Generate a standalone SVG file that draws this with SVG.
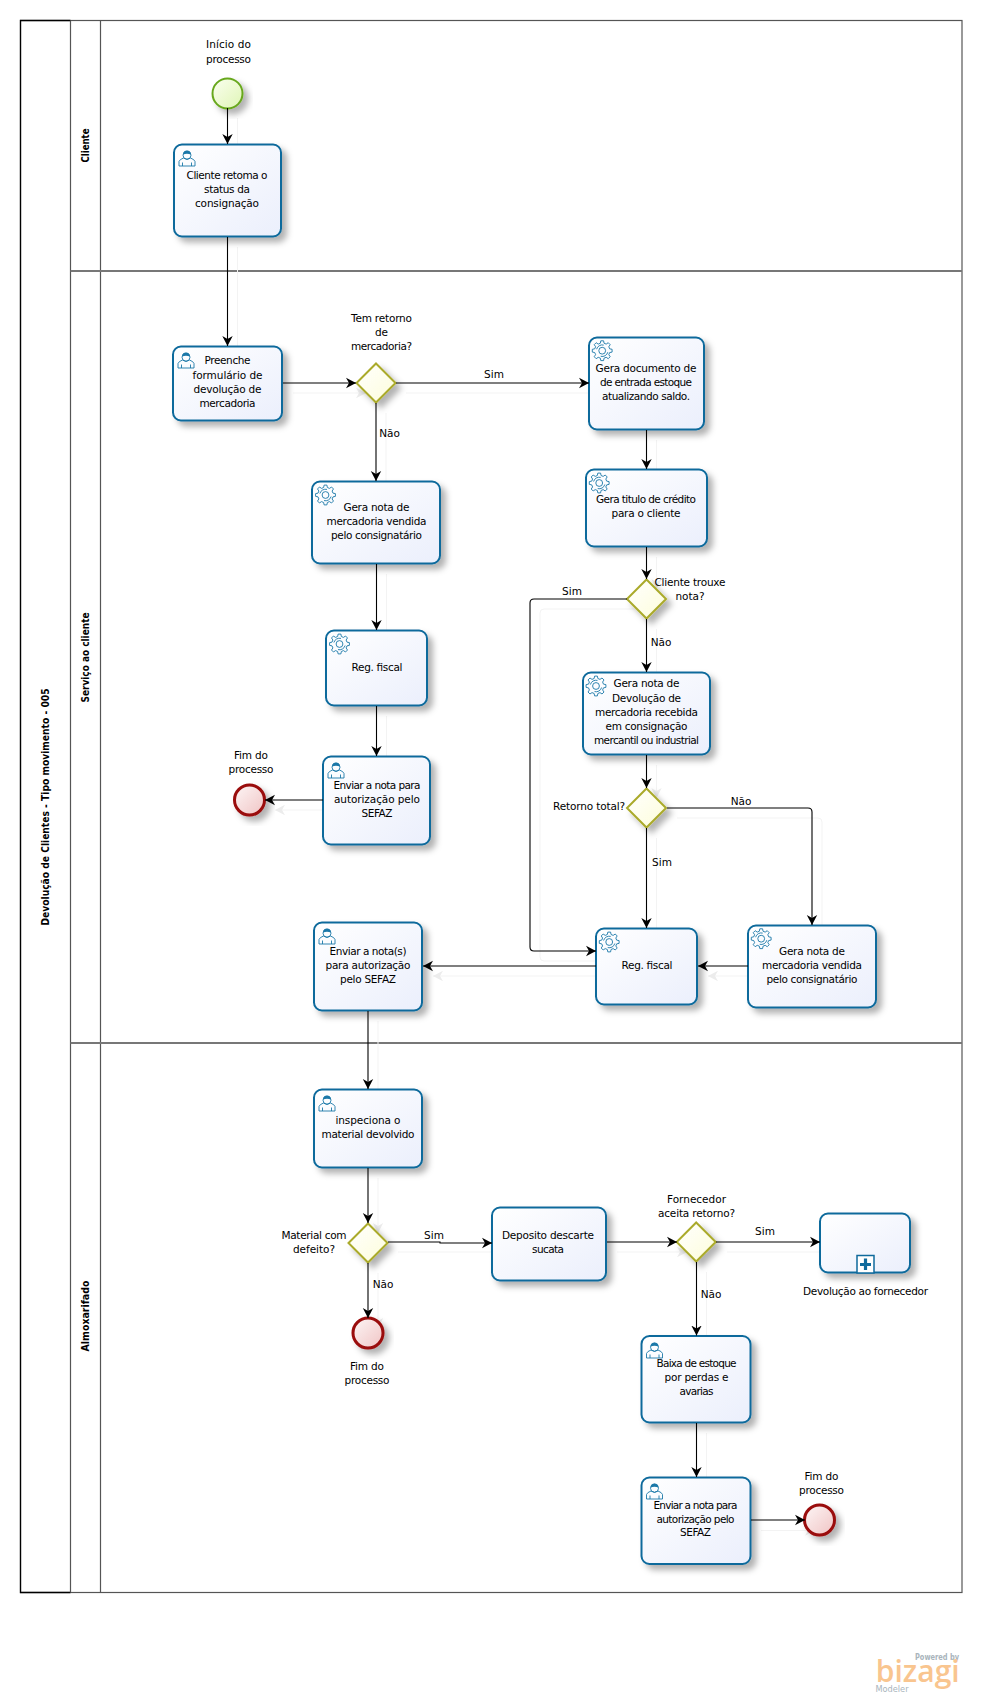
<svg xmlns="http://www.w3.org/2000/svg" width="982" height="1705" viewBox="0 0 982 1705">
<style>
text{font-family:"DejaVu Sans","Liberation Sans",sans-serif;font-size:10.5px;fill:#000;text-anchor:middle}
.b{font-weight:bold;font-size:10.5px}
.lane{fill:none;stroke:#555;stroke-width:1.2}
.sep{stroke:#777;stroke-width:2}
.task{fill:url(#gt);stroke:#0f6a9c;stroke-width:2;filter:url(#sh)}
.gw{fill:url(#gg);stroke:#aaaa2a;stroke-width:2;filter:url(#sh)}
.st{fill:url(#gs);stroke:#68a81e;stroke-width:2;filter:url(#sh)}
.en{fill:url(#ge);stroke:#9a0a0a;stroke-width:3;filter:url(#sh)}
.c{fill:none;stroke:#000;stroke-width:1.1;marker-end:url(#a)}
.cs{fill:none;stroke:#f3f3f3;stroke-width:1;marker-end:url(#as)}
.ic{fill:none;stroke:#1b78a8;stroke-width:0.9}
</style>
<defs>
<linearGradient id="gt" x1="0" y1="0" x2="1" y2="1"><stop offset="0" stop-color="#fff"/><stop offset="1" stop-color="#ebeffc"/></linearGradient>
<linearGradient id="gg" x1="0" y1="0" x2="1" y2="1"><stop offset="0" stop-color="#fff"/><stop offset="1" stop-color="#fdfdda"/></linearGradient>
<linearGradient id="gs" x1="0" y1="0" x2="1" y2="1"><stop offset="0" stop-color="#fbfff0"/><stop offset="1" stop-color="#dff5b5"/></linearGradient>
<linearGradient id="ge" x1="0" y1="0" x2="1" y2="1"><stop offset="0" stop-color="#fdf6f6"/><stop offset="1" stop-color="#f0c4c4"/></linearGradient>
<filter id="sh" x="-25%" y="-25%" width="160%" height="160%"><feDropShadow dx="5" dy="5" stdDeviation="3" flood-color="#000" flood-opacity="0.3"/></filter>
<marker id="a" markerUnits="userSpaceOnUse" markerWidth="12" markerHeight="12" refX="10" refY="6" orient="auto"><path d="M0 0.8L10 6L0 11.2L3 6Z" fill="#000"/></marker>
<marker id="as" markerUnits="userSpaceOnUse" markerWidth="12" markerHeight="12" refX="10" refY="6" orient="auto"><path d="M0 0.8L10 6L0 11.2L3 6Z" fill="#ececec"/></marker>
<g id="gear"><path class="ic" d="M7.47-1.86L9.9-1.39L9.9 1.39L7.47 1.86L6.6 3.97L7.99 6.02L6.02 7.99L3.97 6.6L1.86 7.47L1.39 9.9L-1.39 9.9L-1.86 7.47L-3.97 6.6L-6.02 7.99L-7.99 6.02L-6.6 3.97L-7.47 1.86L-9.9 1.39L-9.9-1.39L-7.47-1.86L-6.6-3.97L-7.99-6.02L-6.02-7.99L-3.97-6.6L-1.86-7.47L-1.39-9.9L1.39-9.9L1.86-7.47L3.97-6.6L6.02-7.99L7.99-6.02L6.6-3.97Z"/><circle class="ic" r="3.4"/><path class="ic" d="M-5.6-1.5A5.8 5.8 0 0 1 1.5-5.6M5.6 1.5A5.8 5.8 0 0 1-1.5 5.6"/></g>
<g id="user"><path class="ic" d="M0.5 16V11.5Q1 9.5 5 8Q8.5 11 12 8Q16 9.5 16.5 11.5V16ZM4 16V12.5M13 16V12.5"/><circle class="ic" cx="8.5" cy="5.2" r="4"/><path d="M4.5 4.5Q5 0.5 8.5 0.5Q12 0.5 12.5 4.5Q8.5 2.8 4.5 4.5Z" fill="#1b78a8"/></g>
</defs>

<g id="pool">
<rect x="20.5" y="20.5" width="941.5" height="1572" fill="#fff" stroke="#555" stroke-width="1.2"/>
<path d="M70.5 20.5H20.5V1592.5H70.5" fill="none" stroke="#000" stroke-width="1.3"/>
<path class="lane" d="M70.5 20.5V1592.5M100.500 20.5V1592.5"/>
<path class="sep" d="M70.5 271H962M70.5 1043H962"/>
<text class="b" transform="translate(45 807) rotate(-90)" y="4" textLength="237" lengthAdjust="spacingAndGlyphs">Devolução de Clientes - Tipo movimento - 005</text>
<text class="b" transform="translate(85 145.5) rotate(-90)" y="4" textLength="34" lengthAdjust="spacingAndGlyphs">Cliente</text>
<text class="b" transform="translate(85 657.5) rotate(-90)" y="4" textLength="90" lengthAdjust="spacingAndGlyphs">Serviço ao cliente</text>
<text class="b" transform="translate(85 1316) rotate(-90)" y="4" textLength="71" lengthAdjust="spacingAndGlyphs">Almoxarifado</text>
</g>

<g id="connector-shadows">
<path class="cs" d="M237.5 118V154"/><path class="cs" d="M237.5 247V356"/><path class="cs" d="M293 393H366"/><path class="cs" d="M406 393H599"/><path class="cs" d="M386 413V491"/><path class="cs" d="M386.500 574V640"/><path class="cs" d="M386.500 716V766"/><path class="cs" d="M333 810H275"/>
<path class="cs" d="M656.500 440V479"/><path class="cs" d="M656.500 557V589"/><path class="cs" d="M656.500 629V682"/><path class="cs" d="M656.500 765V798"/><path class="cs" d="M656.500 838V938"/>
<path class="cs" d="M637 609H544Q540 609 540 613V957Q540 961 544 961H606"/><path class="cs" d="M677 818H818Q822 818 822 822V935"/><path class="cs" d="M758 976H708"/><path class="cs" d="M606 976H433"/><path class="cs" d="M378 1021V1099"/><path class="cs" d="M378 1178V1233"/><path class="cs" d="M378 1273V1328"/><path class="cs" d="M398 1252H502"/><path class="cs" d="M617 1252H687"/><path class="cs" d="M727 1252H830"/><path class="cs" d="M706.500 1272V1345"/><path class="cs" d="M706.500 1433V1487"/><path class="cs" d="M761 1530.500H815"/>
</g>

<g id="nodes" transform="translate(-0.5 0)">
<g id="start"><circle class="st" cx="228" cy="93.500" r="15"/><text x="229" y="48" textLength="45">Início do</text><text x="229" y="62.500" textLength="45">processo</text></g>
<g id="t-cliente"><rect class="task" x="174.500" y="144.500" width="107" height="92" rx="8"/><use href="#user" x="179" y="150"/><text x="227.500" y="179" textLength="81">Cliente retoma o</text><text x="227.500" y="193" textLength="46">status da</text><text x="227.500" y="207" textLength="64">consignação</text></g>
<g id="t-preenche"><rect class="task" x="173.500" y="346.500" width="109" height="74" rx="8"/><use href="#user" x="178" y="352"/><text x="228" y="364" textLength="46">Preenche</text><text x="228" y="379" textLength="70">formulário de</text><text x="228" y="393" textLength="68">devolução de</text><text x="228" y="407" textLength="56">mercadoria</text></g>
<g id="gw-retorno"><path class="gw" d="M376.500 363.500L396 383L376.500 402.500L357 383Z"/><text x="382" y="322" textLength="61">Tem retorno</text><text x="382" y="336">de</text><text x="382" y="350" textLength="61">mercadoria?</text></g>
<g id="t-doc"><rect class="task" x="589.500" y="337.500" width="115" height="92" rx="8"/><use href="#gear" x="602.700" y="350.700"/><text x="646.500" y="372" textLength="101">Gera documento de</text><text x="646.500" y="386" textLength="92">de entrada estoque</text><text x="646.500" y="400" textLength="88">atualizando  saldo.</text></g>
<g id="t-titulo"><rect class="task" x="586.500" y="469.500" width="121" height="77" rx="8"/><use href="#gear" x="599.700" y="483"/><text x="646.500" y="503" textLength="100">Gera titulo de crédito</text><text x="646.500" y="517" textLength="69">para o cliente</text></g>
<g id="gw-nota"><path class="gw" d="M647 579.500L666.500 599L647 618.500L627.500 599Z"/><text x="690.500" y="586" textLength="71">Cliente trouxe</text><text x="690.500" y="600" textLength="29">nota?</text></g>
<g id="t-devol"><rect class="task" x="583.500" y="672.500" width="127" height="82" rx="8"/><use href="#gear" x="596.500" y="686"/><text x="647" y="687" textLength="66">Gera nota de</text><text x="647" y="702" textLength="69">Devolução de</text><text x="647" y="716" textLength="103">mercadoria recebida</text><text x="647" y="730" textLength="82">em consignação</text><text x="647" y="744" textLength="105">mercantil ou industrial</text></g>
<g id="gw-total"><path class="gw" d="M647 788.500L666.500 808L647 827.500L627.500 808Z"/><text x="589.500" y="810" textLength="72">Retorno total?</text></g>
<g id="t-reg2"><rect class="task" x="596.500" y="928.500" width="101" height="76" rx="8"/><use href="#gear" x="609.700" y="942"/><text x="647.500" y="969" textLength="51">Reg. fiscal</text></g>
<g id="t-vend2"><rect class="task" x="748.500" y="925.500" width="128" height="82" rx="8"/><use href="#gear" x="761.700" y="938.700"/><text x="812.500" y="955" textLength="66">Gera nota de</text><text x="812.500" y="969" textLength="100">mercadoria vendida</text><text x="812.500" y="983" textLength="91">pelo  consignatário</text></g>
<g id="t-vend1"><rect class="task" x="312.500" y="481.500" width="128" height="82" rx="8"/><use href="#gear" x="326" y="495"/><text x="377" y="511" textLength="66">Gera nota de</text><text x="377" y="525" textLength="100">mercadoria vendida</text><text x="377" y="539" textLength="91">pelo  consignatário</text></g>
<g id="t-reg1"><rect class="task" x="326.500" y="630.500" width="101" height="75" rx="8"/><use href="#gear" x="340" y="644"/><text x="377.500" y="671" textLength="51">Reg. fiscal</text></g>
<g id="t-env1"><rect class="task" x="323.500" y="756.500" width="107" height="88" rx="8"/><use href="#user" x="328" y="762"/><text x="377.500" y="789" textLength="87">Enviar a nota para</text><text x="377.500" y="803" textLength="86">autorização pelo</text><text x="377.500" y="817" textLength="31">SEFAZ</text></g>
<g id="end1"><circle class="en" cx="250" cy="800" r="15"/><text x="251.500" y="759" textLength="34">Fim do</text><text x="251.500" y="773" textLength="45">processo</text></g>
<g id="t-env2"><rect class="task" x="314.500" y="922.500" width="108" height="88" rx="8"/><use href="#user" x="319" y="928"/><text x="368.500" y="955" textLength="77">Enviar a nota(s)</text><text x="368.500" y="969" textLength="85">para autorização</text><text x="368.500" y="983" textLength="56">pelo SEFAZ</text></g>
<g id="t-insp"><rect class="task" x="314.500" y="1089.500" width="108" height="78" rx="8"/><use href="#user" x="319" y="1095"/><text x="368.500" y="1124" textLength="65">inspeciona o</text><text x="368.500" y="1138" textLength="93">material devolvido</text></g>
<g id="gw-defeito"><path class="gw" d="M368.500 1223.500L388 1243L368.500 1262.500L349 1243Z"/><text x="314.500" y="1239" textLength="65">Material com</text><text x="314.500" y="1253" textLength="42">defeito?</text></g>
<g id="end2"><circle class="en" cx="368.500" cy="1333" r="15"/><text x="367.500" y="1370" textLength="34">Fim do</text><text x="367.500" y="1384" textLength="45">processo</text></g>
<g id="t-dep"><rect class="task" x="492.500" y="1207.500" width="114" height="73" rx="8"/><text x="548.500" y="1239" textLength="92">Deposito descarte</text><text x="548.500" y="1253" textLength="32">sucata</text></g>
<g id="gw-forn"><path class="gw" d="M696.700 1222.500L716.200 1242L696.700 1261.500L677.200 1242Z"/><text x="697" y="1202.500" textLength="59">Fornecedor</text><text x="697" y="1216.500" textLength="77">aceita retorno?</text></g>
<g id="sp-devol"><rect class="task" x="820.500" y="1213.500" width="90" height="59" rx="8"/><rect x="857.500" y="1255.500" width="17" height="17.500" fill="#fff" stroke="#0f6a9c" stroke-width="1.500"/><path d="M866 1258.500V1270M860.500 1264.500H871.500" stroke="#0f6a9c" stroke-width="3.200" fill="none"/><text x="866" y="1294.500" textLength="125">Devolução ao fornecedor</text></g>
<g id="t-baixa"><rect class="task" x="642" y="1336" width="109" height="86.500" rx="8"/><use href="#user" x="646.500" y="1342"/><text x="697" y="1367" textLength="80">Baixa de estoque</text><text x="697" y="1381" textLength="64">por perdas e</text><text x="697" y="1395" textLength="34">avarias</text></g>
<g id="t-env3"><rect class="task" x="642" y="1477.500" width="109" height="86.500" rx="8"/><use href="#user" x="646.500" y="1483"/><text x="696" y="1508.500" textLength="84">Enviar a nota para</text><text x="696" y="1522.500" textLength="78">autorização pelo</text><text x="696" y="1536" textLength="31">SEFAZ</text></g>
<g id="end3"><circle class="en" cx="820" cy="1520" r="15"/><text x="822" y="1479.500" textLength="34">Fim do</text><text x="822" y="1493.500" textLength="45">processo</text></g>
</g>

<g id="connectors">
<path class="c" d="M227.500 108V144"/><path class="c" d="M227.500 237V346"/><path class="c" d="M283 383H356"/><path class="c" d="M396 383H589"/><path class="c" d="M376 403V481"/><path class="c" d="M376.500 564V630"/><path class="c" d="M376.500 706V756"/><path class="c" d="M323 800H265"/>
<path class="c" d="M646.500 430V469"/><path class="c" d="M646.500 547V579"/><path class="c" d="M646.500 619V672"/><path class="c" d="M646.500 755V788"/><path class="c" d="M646.500 828V928"/>
<path class="c" d="M627 599H534Q530 599 530 603V947Q530 951 534 951H596"/><path class="c" d="M667 808H808Q812 808 812 812V925"/><path class="c" d="M748 966H698"/><path class="c" d="M596 966H423"/><path class="c" d="M368 1011V1089"/><path class="c" d="M368 1168V1223"/><path class="c" d="M368 1263V1318"/><path class="c" d="M388 1242H440V1243H492"/><path class="c" d="M607 1242H677"/><path class="c" d="M716 1242H820"/><path class="c" d="M696.500 1262V1335.500"/><path class="c" d="M696.500 1423V1477"/><path class="c" d="M751 1520H805"/>
</g>

<g id="labels">
<text x="494" y="378">Sim</text><text x="389.500" y="437">Não</text><text x="572" y="595">Sim</text><text x="661" y="646">Não</text><text x="741" y="805">Não</text><text x="662" y="866">Sim</text><text x="434" y="1239">Sim</text><text x="383" y="1288">Não</text><text x="765" y="1235">Sim</text><text x="711" y="1298">Não</text>
</g>

<g id="logo">
<text x="937" y="1660" textLength="44" lengthAdjust="spacingAndGlyphs" style="font-size:8.500px;font-weight:bold;fill:#a9b4bc">Powered by</text>
<text x="917.700" y="1681.700" textLength="84" lengthAdjust="spacingAndGlyphs" style="font-family:'Open Sans','Noto Sans',sans-serif;font-size:30px;fill:#f9c58f;font-weight:600">bizagi</text>
<text x="892" y="1692" textLength="33" lengthAdjust="spacingAndGlyphs" style="font-size:9.500px;fill:#a8b4bc">Modeler</text>
</g>
</svg>
